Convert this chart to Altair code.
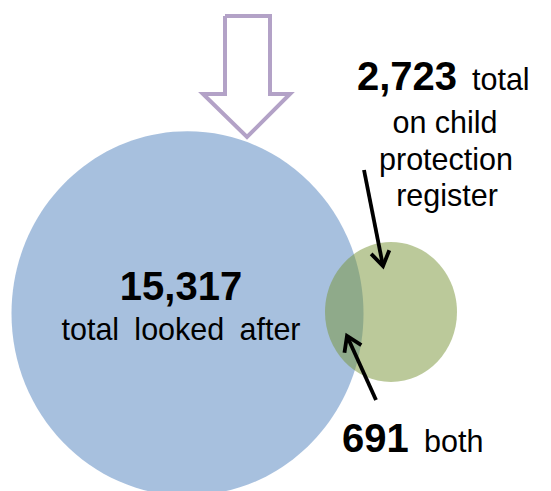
import math
import altair as alt
import pandas as pd

# ---- data -------------------------------------------------------------
set_names = ["total looked after", "on child protection register"]
set_totals = [15317, 2723]
both_total = 691

# ---- layout (pixel coordinates of the reference picture) --------------
circle_cx = [187.5, 391]
circle_cy = [306.5, 305]
circle_colors = ["#4F81BD", "#779435"]
radius_big, radius_small = 176, 66      # horizontal radii
vertical_stretch = [1.035, 1.06]        # the reference picture is slightly stretched

# downward purple arrow outline (polygon vertices)
down_arrow_x = [225, 270, 270, 290, 247, 203, 225, 225]
down_arrow_y = [9, 9, 87, 87, 130, 87, 87, 9]

# black pointer arrows: start -> tip
pointer_start = [(364, 163), (376, 393)]
pointer_tip = [(383, 259), (347, 329)]

X0, X1, Y0, Y1 = 8, 543, 8, 483
xs = alt.Scale(domain=[X0, X1])
ys = alt.Scale(domain=[Y0, Y1], reverse=True)
FONT = "Liberation Sans"


def ellipse_path(k):
    return f"M-1,0A1,{k} 0 1,1 1,0A1,{k} 0 1,1 -1,0Z"


circles = pd.DataFrame({
    "name": set_names, "value": set_totals,
    "cx": circle_cx, "cy": circle_cy, "color": circle_colors,
    "shape": [ellipse_path(k) for k in vertical_stretch],
})
# Vega symbol size is the area of the bounding square: (2r)^2
circle_layer = alt.Chart(circles).mark_point(filled=True, opacity=0.5, strokeWidth=0).encode(
    x=alt.X("cx:Q", scale=xs, axis=None),
    y=alt.Y("cy:Q", scale=ys, axis=None),
    size=alt.Size("value:Q", scale=alt.Scale(
        domain=[set_totals[1], set_totals[0]], zero=False,
        range=[(2 * radius_small) ** 2, (2 * radius_big) ** 2]), legend=None),
    color=alt.Color("color:N", scale=None),
    shape=alt.Shape("shape:N", scale=None),
)

# purple outline arrow
arrow_df = pd.DataFrame({"x": down_arrow_x, "y": down_arrow_y,
                         "o": list(range(len(down_arrow_x)))})
arrow_layer = alt.Chart(arrow_df).mark_line(
    color="#B3A2C7", strokeWidth=4, strokeJoin="miter").encode(
    x=alt.X("x:Q", scale=xs, axis=None),
    y=alt.Y("y:Q", scale=ys, axis=None),
    order="o:Q",
)

# black pointers
rows = []
for i, ((sx, sy), (tx, ty)) in enumerate(zip(pointer_start, pointer_tip)):
    dx, dy = tx - sx, ty - sy
    L = math.hypot(dx, dy)
    ux, uy = dx / L, dy / L
    rows += [{"g": f"s{i}", "o": 0, "x": sx, "y": sy},
             {"g": f"s{i}", "o": 1, "x": tx, "y": ty}]
    head = 17
    ang = math.radians(33)
    pts = []
    for sgn in (1, -1):
        c, s = math.cos(sgn * ang), math.sin(sgn * ang)
        rx, ry = ux * c - uy * s, ux * s + uy * c
        pts.append((tx - head * rx, ty - head * ry))
    rows += [{"g": f"h{i}", "o": 0, "x": pts[0][0], "y": pts[0][1]},
             {"g": f"h{i}", "o": 1, "x": tx, "y": ty},
             {"g": f"h{i}", "o": 2, "x": pts[1][0], "y": pts[1][1]}]
ptr_df = pd.DataFrame(rows)
pointer_layer = alt.Chart(ptr_df).mark_line(
    color="black", strokeWidth=3.8, strokeJoin="miter", strokeCap="butt").encode(
    x=alt.X("x:Q", scale=xs, axis=None),
    y=alt.Y("y:Q", scale=ys, axis=None),
    detail="g:N", order="o:Q",
)

# texts (wide word gaps in the reference label)
looked_after_label = "total\u2002looked\u2002after"
bold_center = pd.DataFrame({"t": [f"{set_totals[0]:,}"], "x": [181], "y": [293]})
bold_left = pd.DataFrame({"t": [f"{set_totals[1]:,}", f"{both_total:,}"],
                          "x": [357, 342], "y": [83, 445]})
reg_center = pd.DataFrame({"t": [looked_after_label, "on child", "protection", "register"],
                           "x": [181, 445, 446, 447], "y": [333, 126, 163, 199]})
reg_left = pd.DataFrame({"t": ["total", "both"], "x": [472, 424], "y": [83, 445]})


def txt(df, bold, align):
    return alt.Chart(df).mark_text(
        font=FONT, fontSize=40 if bold else 30.5,
        fontWeight="bold" if bold else "normal",
        align=align, baseline="alphabetic", color="black").encode(
        x=alt.X("x:Q", scale=xs, axis=None),
        y=alt.Y("y:Q", scale=ys, axis=None),
        text="t:N",
    )


chart = alt.layer(
    circle_layer, arrow_layer, pointer_layer,
    txt(bold_center, True, "center"), txt(bold_left, True, "left"),
    txt(reg_center, False, "center"), txt(reg_left, False, "left"),
).properties(width=X1 - X0, height=Y1 - Y0, padding=0, background="white"
).configure_view(stroke=None)

chart.save("out.html", embed_options={"renderer": "svg", "actions": False})
